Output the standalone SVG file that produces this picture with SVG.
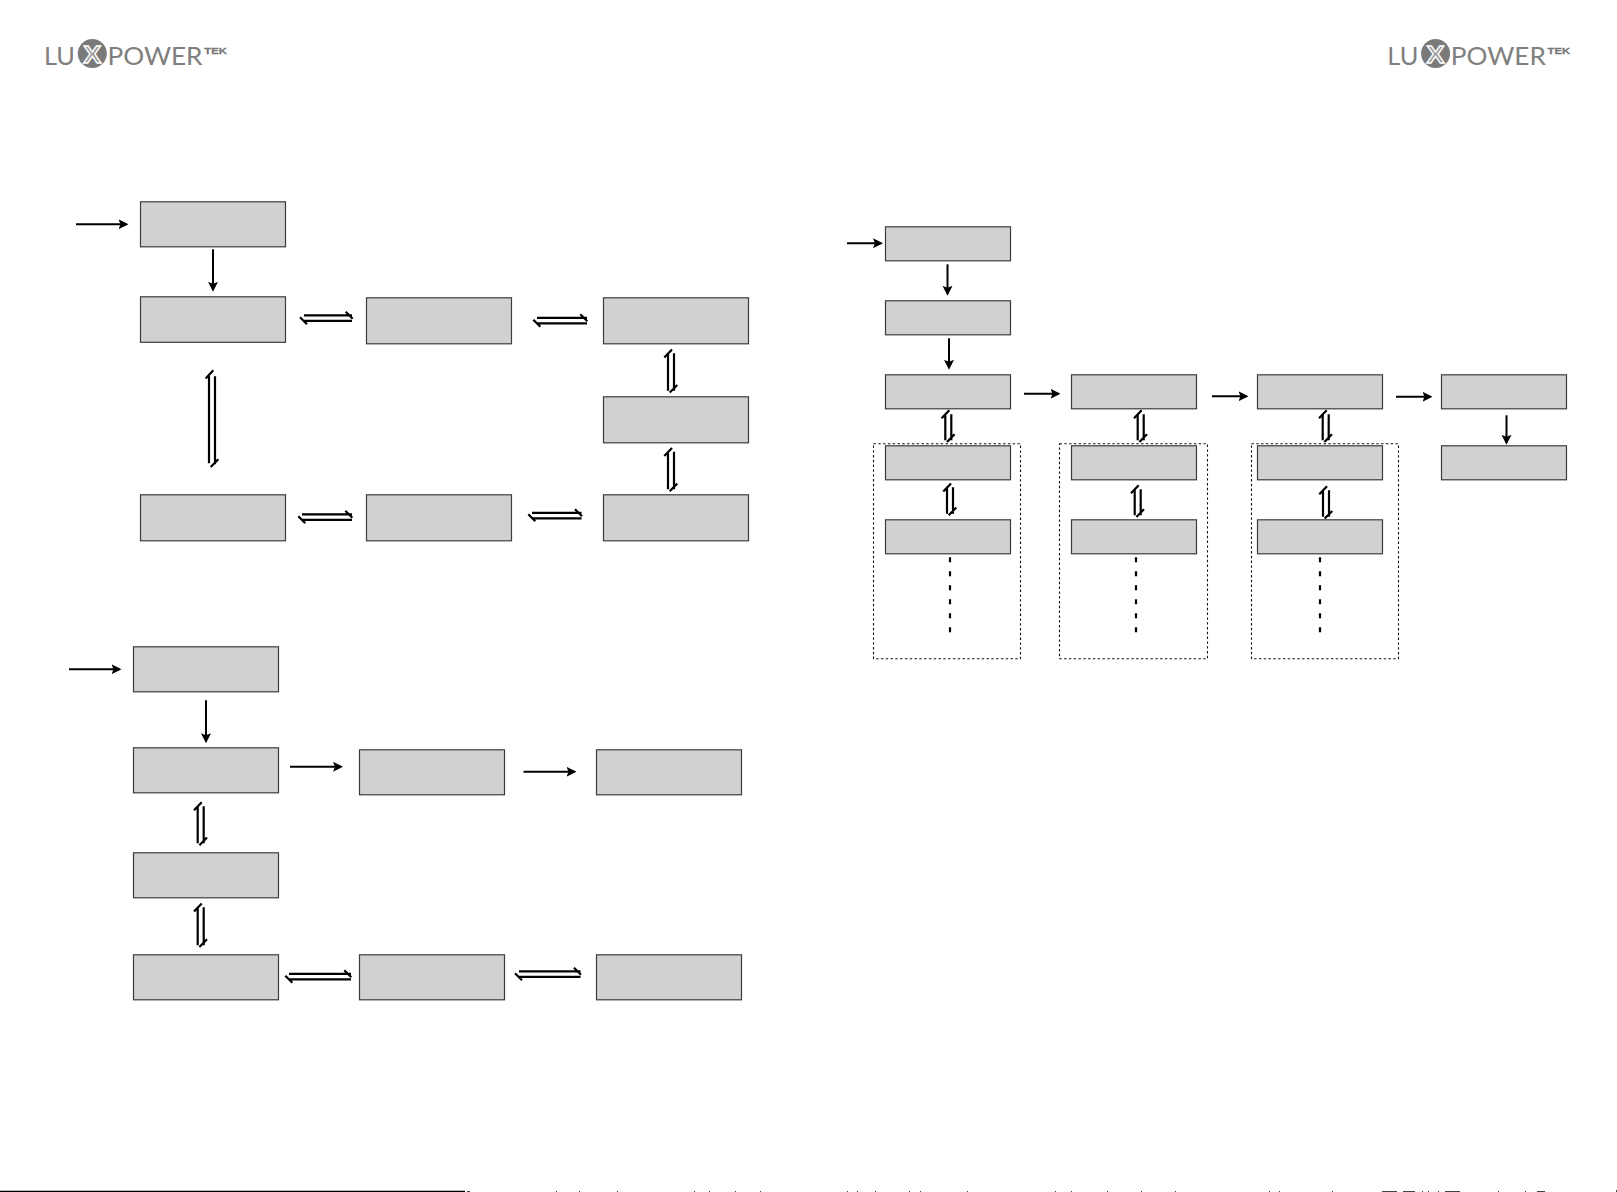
<svg xmlns="http://www.w3.org/2000/svg" width="1617" height="1192" viewBox="0 0 1617 1192">
<style>
.b{fill:#d1d1d1;stroke:#3c3c3c;stroke-width:1.2}
.d{fill:none;stroke:#111;stroke-width:1.1;stroke-dasharray:2.4 2.4}
.a{fill:none;stroke:#000;stroke-width:2;marker-end:url(#h)}
.p{fill:none;stroke:#000;stroke-width:2.200}
.e{fill:none;stroke:#000;stroke-width:2.200;stroke-dasharray:5 9}
.t{font-family:Lato,"Open Sans","Liberation Sans",sans-serif;font-weight:400;fill:#808080}
</style>
<defs>
<marker id="h" markerUnits="userSpaceOnUse" markerWidth="12" markerHeight="12" refX="8" refY="6" orient="auto">
<path d="M0 1 L10 6 L0 11 L2 6 Z" fill="#000"/>
</marker>
<g id="logo">
<text class="t" x="44" y="64.500" font-size="24.500" textLength="31" lengthAdjust="spacingAndGlyphs">LU</text>
<circle cx="92.300" cy="53.500" r="14.500" fill="#7a7a7a"/>
<text x="92.300" y="62.500" font-size="24" text-anchor="middle" font-family="'Liberation Sans',Arial,sans-serif" font-weight="bold" fill="#9a9a9a" stroke="#fff" stroke-width="1.300" textLength="18" lengthAdjust="spacingAndGlyphs">X</text>
<text class="t" x="107.500" y="64.500" font-size="24.500" textLength="95" lengthAdjust="spacingAndGlyphs">POWER</text>
<text x="204.300" y="54" font-size="9.500" font-family="'Liberation Sans',Arial,sans-serif" font-weight="bold" fill="#777" stroke="#777" stroke-width="0.300" textLength="22.500" lengthAdjust="spacingAndGlyphs">TEK</text>
</g>
</defs>

<g id="logo-left"><use href="#logo"/></g>
<g id="logo-right"><use href="#logo" x="1343.300"/></g>

<g transform="translate(0 .3)">
<g id="n1"><rect class="b" x="140.500" y="201.500" width="145" height="45"/></g>
<g id="n2"><rect class="b" x="140.500" y="296.500" width="145" height="45.500"/></g>
<g id="n3"><rect class="b" x="366.500" y="297.500" width="145" height="46"/></g>
<g id="n4"><rect class="b" x="603.500" y="297.500" width="145" height="46"/></g>
<g id="n5"><rect class="b" x="603.500" y="396.500" width="145" height="46"/></g>
<g id="n6"><rect class="b" x="603.500" y="494.500" width="145" height="46"/></g>
<g id="n7"><rect class="b" x="366.500" y="494.500" width="145" height="46"/></g>
<g id="n8"><rect class="b" x="140.500" y="494.500" width="145" height="46"/></g>

<g id="n9"><rect class="b" x="133.500" y="646.500" width="145" height="45"/></g>
<g id="n10"><rect class="b" x="133.500" y="747.500" width="145" height="45"/></g>
<g id="n11"><rect class="b" x="359.500" y="749.500" width="145" height="45"/></g>
<g id="n12"><rect class="b" x="596.500" y="749.500" width="145" height="45"/></g>
<g id="n13"><rect class="b" x="133.500" y="852.500" width="145" height="45"/></g>
<g id="n14"><rect class="b" x="133.500" y="954.500" width="145" height="45"/></g>
<g id="n15"><rect class="b" x="359.500" y="954.500" width="145" height="45"/></g>
<g id="n16"><rect class="b" x="596.500" y="954.500" width="145" height="45"/></g>

<g id="g1"><rect class="d" x="873.500" y="443.500" width="147" height="215"/></g>
<g id="g2"><rect class="d" x="1059.500" y="443.500" width="148" height="215"/></g>
<g id="g3"><rect class="d" x="1251.500" y="443.500" width="147" height="215"/></g>

<g id="n17"><rect class="b" x="885.500" y="226.500" width="125" height="34"/></g>
<g id="n18"><rect class="b" x="885.500" y="300.500" width="125" height="34"/></g>
<g id="n19"><rect class="b" x="885.500" y="374.500" width="125" height="34"/></g>
<g id="n20"><rect class="b" x="885.500" y="445.500" width="125" height="34"/></g>
<g id="n21"><rect class="b" x="885.500" y="519.500" width="125" height="34"/></g>
<g id="n22"><rect class="b" x="1071.500" y="374.500" width="125" height="34"/></g>
<g id="n23"><rect class="b" x="1071.500" y="445.500" width="125" height="34"/></g>
<g id="n24"><rect class="b" x="1071.500" y="519.500" width="125" height="34"/></g>
<g id="n25"><rect class="b" x="1257.500" y="374.500" width="125" height="34"/></g>
<g id="n26"><rect class="b" x="1257.500" y="445.500" width="125" height="34"/></g>
<g id="n27"><rect class="b" x="1257.500" y="519.500" width="125" height="34"/></g>
<g id="n28"><rect class="b" x="1441.500" y="374.500" width="125" height="34"/></g>
<g id="n29"><rect class="b" x="1441.500" y="445.500" width="125" height="34"/></g>

<g id="connectors">
<path class="a" d="M76 224H126.500"/>
<path class="a" d="M213 249V289.500"/>
<path class="a" d="M69 669H119.500"/>
<path class="a" d="M206 700V741"/>
<path class="a" d="M290 766.500H341"/>
<path class="a" d="M523.500 771.500H574.500"/>
<path class="a" d="M847 243H881"/>
<path class="a" d="M947.500 264V293.500"/>
<path class="a" d="M949 338V367.500"/>
<path class="a" d="M1024 393.500H1058.500"/>
<path class="a" d="M1212 396H1246.500"/>
<path class="a" d="M1396 396.500H1430.500"/>
<path class="a" d="M1506.500 415V442.500"/>

<path class="p" d="M304 315H352M304 320.500H352M352.700 318.500L345.700 311.500M300 317L307 324"/>
<path class="p" d="M537 317.500H587M537 323H587M587.300 321L580.300 314M533.300 319.500L540.300 326.500"/>
<path class="p" d="M302 514H352M302 519.500H352M352.300 517.500L345.300 510.500M298.300 516L305.300 523"/>
<path class="p" d="M532 512.500H581.500M532 518H581.500M582 516L575 509M528.300 514L535.300 521"/>
<path class="p" d="M289 973.500H351M289 979H351M351.300 977L344.300 970M285.300 975.500L292.300 982.500"/>
<path class="p" d="M519 971H580.500M519 976.500H580.500M581 974.500L574 967.500M515 973L522 980"/>

<path class="p" d="M668 353V390.500M674 353V390.500M672 349.300L664.300 357.300M669.700 392.300L677.300 384.600"/>
<path class="p" d="M668 451.500V489M674 451.500V489M672 447.700L664.300 455.700M669.700 491L677.300 483.300"/>
<path class="p" d="M209 376V463M215 376V464M213.300 370L205.700 378.300M210.700 466.700L218.300 459"/>
<path class="p" d="M197.700 806V843M203.700 806V843M201.700 802L194 810M199.400 845L207 837.300"/>
<path class="p" d="M197.700 907V945M203.700 907V945M201.700 903.300L194 911.300M199.400 946.700L207 939"/>
<path class="p" d="M945.300 414V440M951.300 414V440M949.300 410L941.600 418M947 441.700L954.600 434"/>
<path class="p" d="M1137.700 414V440M1143.700 414V440M1141.700 410L1134 418M1139.400 441.700L1147 434"/>
<path class="p" d="M1322.700 414V440M1328.700 414V440M1326.700 410L1319 418M1324.400 441.700L1332 434"/>
<path class="p" d="M947 487V513.500M953 487V513.500M951 483.300L943.300 491.300M948.700 515L956.300 507.300"/>
<path class="p" d="M1134.700 489V515M1140.700 489V515M1138.700 485L1131 493M1136.400 516.700L1144 509"/>
<path class="p" d="M1323 490V516.500M1329 490V516.500M1327 486L1319.300 494M1324.700 518.300L1332.300 510.600"/>

<path class="e" d="M950 557V632"/>
<path class="e" d="M1136 557V632"/>
<path class="e" d="M1320 557V632"/>
</g>
</g>

<g id="footer">
<path d="M0 1191.500H465" stroke="#000" stroke-width="1.500" fill="none"/>
<path d="M467 1191h3v1h-3zM556 1191h1v1h-1zM579 1191h1v1h-1zM617 1191h1v1h-1zM694 1191h1v1h-1zM709 1191h1v1h-1zM735 1191h1v1h-1zM760 1191h1v1h-1zM847 1191h1v1h-1zM857 1191h1v1h-1zM875 1191h1v1h-1zM909 1191h1v1h-1zM920 1191h1v1h-1zM967 1191h1v1h-1zM1055 1191h1v1h-1zM1071 1191h1v1h-1zM1107 1191h1v1h-1zM1141 1191h1v1h-1zM1175 1191h1v1h-1zM1269 1191h1v1h-1zM1279 1191h1v1h-1zM1332 1191h1v1h-1zM1382 1191h15v1h-15zM1403 1191h12v1h-12zM1422 1191h1v1h-1zM1428 1191h1v1h-1zM1438 1191h1v1h-1zM1445 1191h15v1h-15zM1498 1191h1v1h-1zM1525 1191h1v1h-1zM1537 1191h8v1h-8zM1616 1190h1v2h-1z" fill="#444"/>
</g>
</svg>
